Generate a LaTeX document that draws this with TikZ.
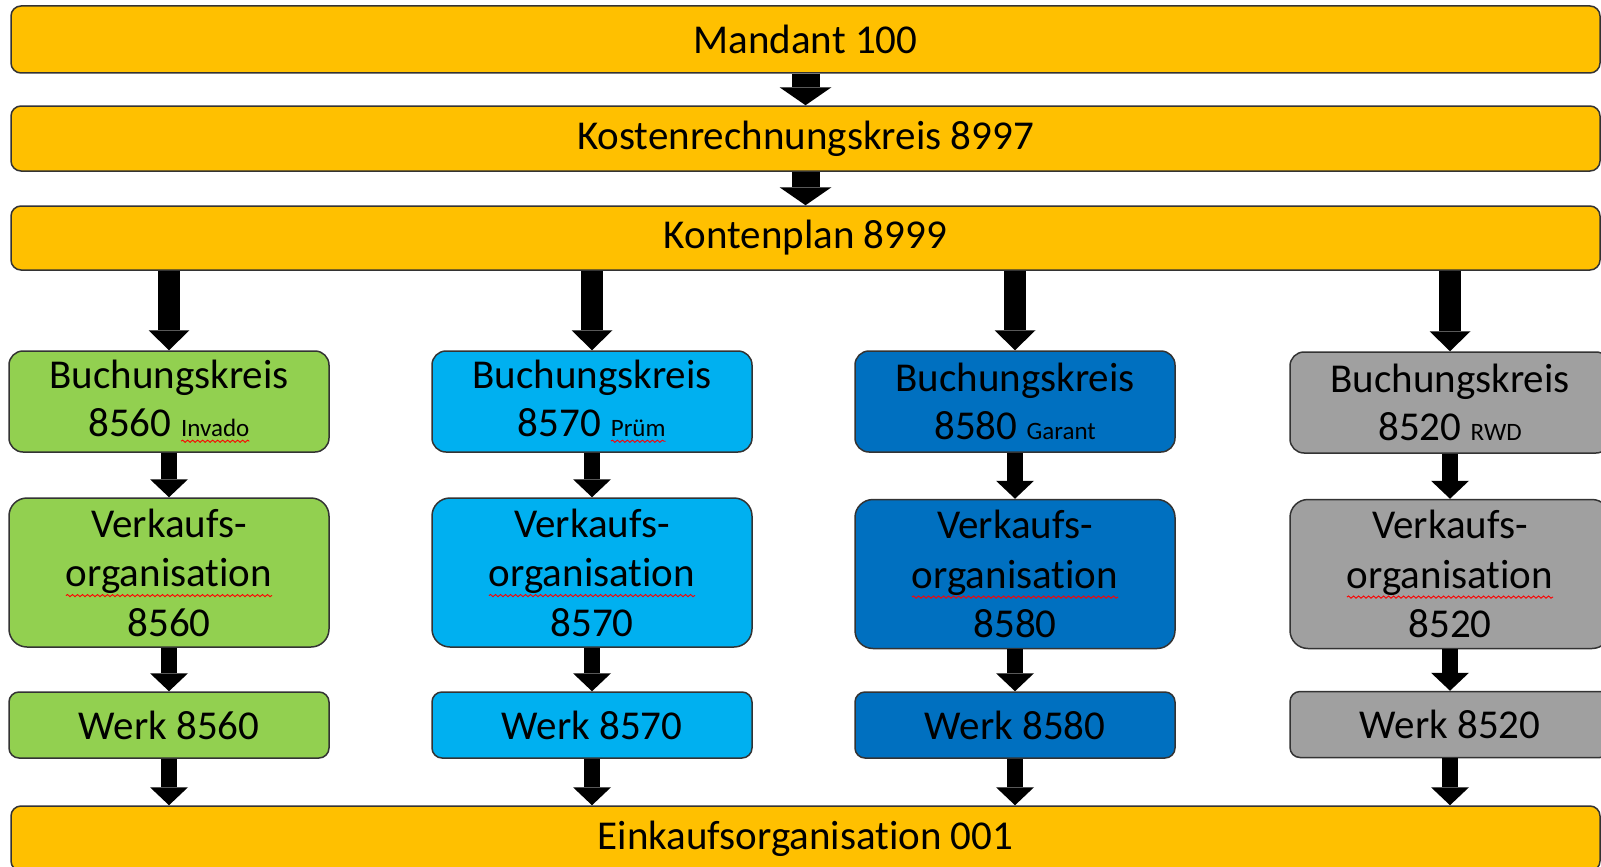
\documentclass[tikz,border=0pt]{standalone}
\usepackage{fontspec}
\setmainfont{Carlito}[Ligatures=CommonOff]
\usepackage{xcolor}
\usepackage{tikz}
\usetikzlibrary{arrows.meta,positioning,decorations.pathmorphing}

\definecolor{barorange}{HTML}{FFC000}
\definecolor{kreisgreen}{HTML}{92D050}
\definecolor{kreisblue}{HTML}{00B0F0}
\definecolor{kreisnavy}{HTML}{0070C0}
\definecolor{kreisgray}{HTML}{A0A0A0}

% red wavy spell-check underline
\newcommand\spellerr[2][8pt]{\tikz[baseline=(w.base), x=1cm, y=1cm, sharp corners]{%
    \node[draw=none, fill=none, inner sep=0pt, outer sep=0pt, minimum size=0pt, anchor=base, font={}] (w) {#2};%
    \draw[red, line width=0.9pt, sharp corners, decorate, decoration={snake, amplitude=1.1pt, segment length=5pt}] ([yshift=-#1]w.base west) -- ([yshift=-#1]w.base east);}}
\newcommand\firm[1]{{\fontsize{25}{28}\selectfont #1}}

\begin{document}
\begin{tikzpicture}[x=1pt, y=-1pt,
        bar/.style={rectangle, rounded corners=10pt, draw=black!80, line width=1.5pt, fill=barorange, minimum width=1589pt, minimum height=65pt, inner sep=0pt, font=\fontsize{41}{48}\selectfont},
        box/.style={rectangle, draw=black!80, line width=1.5pt, minimum width=320pt, align=center, inner sep=0pt, font=\fontsize{41}{48}\selectfont},
        kreis/.style={box, rounded corners=14pt, minimum height=101pt},
        vkorg/.style={box, rounded corners=18pt, minimum height=149pt, font=\fontsize{41}{49.5}\selectfont},
        werk/.style={box, rounded corners=10pt, minimum height=66pt},
        bigarrow/.style={line width=28pt, -{Triangle[width=52pt, length=18pt, line width=0pt]}},
        colarrow/.style={line width=22pt, -{Triangle[width=41pt, length=20pt, line width=0pt]}},
        arrow/.style={line width=16pt, -{Triangle[width=38pt, length=18pt, line width=0pt]}}
    ]
        \useasboundingbox (0,0) rectangle (1601,867);

        % Bars across the top
        \node[bar, minimum height=67pt] (mandant) at (805.5,39.5) {Mandant 100};
        \node[bar] (kosten) at (805.5,138.5) {Kostenrechnungskreis 8997};
        \node[bar, minimum height=64pt] (konten) at (805.5,238) {Kontenplan 8999};

        % Column 1
        \node[kreis, fill=kreisgreen] (bk1) at (169,401.5) {Buchungskreis\\8560 \firm{\spellerr[4.5pt]{Invado}}};
        \node[vkorg, fill=kreisgreen] (vko1) at (169,572.5) {Verkaufs-\\\spellerr[9pt]{organisation}\\8560};
        \node[werk, fill=kreisgreen] (werk1) at (169,725) {Werk 8560};

        % Column 2
        \node[kreis, fill=kreisblue] (bk2) at (592,401.5) {Buchungskreis\\8570 \firm{\spellerr[4.5pt]{Prüm}}};
        \node[vkorg, fill=kreisblue] (vko2) at (592,572.5) {Verkaufs-\\\spellerr[9pt]{organisation}\\8570};
        \node[werk, fill=kreisblue] (werk2) at (592,725) {Werk 8570};

        % Column 3
        \node[kreis, fill=kreisnavy] (bk3) at (1015,401.5) {Buchungskreis\\8580 \firm{Garant}};
        \node[vkorg, fill=kreisnavy] (vko3) at (1015,574) {Verkaufs-\\\spellerr[9pt]{organisation}\\8580};
        \node[werk, fill=kreisnavy] (werk3) at (1015,725) {Werk 8580};

        % Column 4
        \node[kreis, fill=kreisgray] (bk4) at (1450,402.5) {Buchungskreis\\8520 \firm{RWD}};
        \node[vkorg, fill=kreisgray] (vko4) at (1450,574) {Verkaufs-\\\spellerr[9pt]{organisation}\\8520};
        \node[werk, fill=kreisgray] (werk4) at (1450,724.5) {Werk 8520};

        % Bar at the bottom
        \node[bar] (einkauf) at (805.5,838.5) {Einkaufsorganisation 001};

        % Arrows between the bars
        \draw[bigarrow] (mandant.south) -- (kosten.north);
        \draw[bigarrow] (kosten.south) -- (konten.north);

        % Arrows down each column
        \draw[colarrow] (konten.south -| bk1.north) -- (bk1.north);
        \draw[colarrow] (konten.south -| bk2.north) -- (bk2.north);
        \draw[colarrow] (konten.south -| bk3.north) -- (bk3.north);
        \draw[colarrow] (konten.south -| bk4.north) -- (bk4.north);

        \draw[arrow] (bk1) -- (vko1);
        \draw[arrow] (bk2) -- (vko2);
        \draw[arrow] (bk3) -- (vko3);
        \draw[arrow] (bk4) -- (vko4);

        \draw[arrow] (vko1) -- (werk1);
        \draw[arrow] (vko2) -- (werk2);
        \draw[arrow] (vko3) -- (werk3);
        \draw[arrow] (vko4) -- (werk4);

        \draw[arrow] (werk1.south) -- (werk1.south |- einkauf.north);
        \draw[arrow] (werk2.south) -- (werk2.south |- einkauf.north);
        \draw[arrow] (werk3.south) -- (werk3.south |- einkauf.north);
        \draw[arrow] (werk4.south) -- (werk4.south |- einkauf.north);
    \end{tikzpicture}
\end{document}
